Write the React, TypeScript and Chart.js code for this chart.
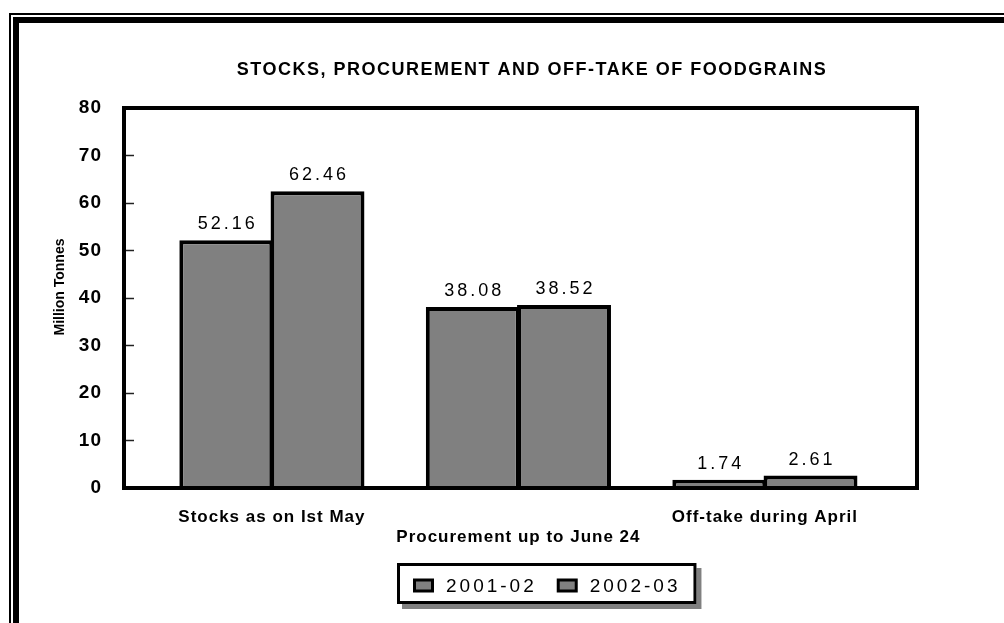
import React, { useEffect, useRef } from "react";
import { Chart, registerables } from "chart.js";

Chart.register(...registerables);

// ---- data ----
const CATEGORIES = ["Stocks as on Ist May", "Procurement up to June 24", "Off-take during April"];
const SERIES_LABELS = ["2001-02", "2002-03"];
const VALUES_2001_02 = [52.16, 38.08, 1.74];
const VALUES_2002_03 = [62.46, 38.52, 2.61];
const Y_TICKS = [0, 10, 20, 30, 40, 50, 60, 70, 80];
const TITLE = "STOCKS, PROCUREMENT AND OFF-TAKE OF FOODGRAINS";
const Y_TITLE = "Million Tonnes";

// ---- layout / style ----
const W = 1004;
const H = 623;
const FONT = "'Liberation Sans', Arial, sans-serif";
const BAR_FILL = "#808080";

const decor = {
  id: "decor",
  beforeUpdate(chart: any) {
    chart.ctx.letterSpacing = "1px";
  },
  beforeDraw(chart: any) {
    const ctx = chart.ctx;
    ctx.save();
    ctx.fillStyle = "#fff";
    ctx.fillRect(0, 0, W, H);
    ctx.fillStyle = "#000";
    // outer double frame (thin + thick), open at right and bottom
    ctx.fillRect(9, 13, W - 9, 2);
    ctx.fillRect(9, 13, 2, H - 13);
    ctx.fillRect(13, 17, W - 13, 6);
    ctx.fillRect(13, 17, 6, H - 17);
    ctx.restore();
    ctx.letterSpacing = "1px";
  },
  afterDraw(chart: any) {
    const ctx = chart.ctx;
    const ca = chart.chartArea;
    ctx.save();
    // plot-area frame (top & right)
    ctx.strokeStyle = "#000";
    ctx.lineWidth = 4;
    ctx.beginPath();
    ctx.moveTo(ca.left - 2, ca.top);
    ctx.lineTo(ca.right, ca.top);
    ctx.lineTo(ca.right, ca.bottom + 2);
    ctx.stroke();

    // value labels
    ctx.fillStyle = "#000";
    ctx.textAlign = "center";
    ctx.textBaseline = "alphabetic";
    ctx.letterSpacing = "3px";
    ctx.font = `18px ${FONT}`;
    chart.data.datasets.forEach((ds: any, di: number) => {
      const meta = chart.getDatasetMeta(di);
      meta.data.forEach((bar: any, i: number) => {
        const v = ds.data[i].y;
        ctx.fillText(v.toFixed(2), bar.x + 1.5, bar.y - 11);
      });
    });

    // title
    ctx.letterSpacing = "1.5px";
    ctx.font = `bold 18px ${FONT}`;
    ctx.textBaseline = "middle";
    ctx.fillText(TITLE, 532, 70);

    // y-axis title
    ctx.save();
    ctx.letterSpacing = "0px";
    ctx.font = `bold 14px ${FONT}`;
    ctx.translate(60, 287);
    ctx.rotate(-Math.PI / 2);
    ctx.fillText(Y_TITLE, 0, 0);
    ctx.restore();

    // legend
    const lx = 397, ly = 563, lh = 41;
    ctx.letterSpacing = "3px";
    ctx.font = `19px ${FONT}`;
    const widths = chart.data.datasets.map((ds: any) => ctx.measureText(ds.label).width);
    const lw = 16 + widths.reduce((a: number, w: number) => a + 33 + w, 0) + 20 * (widths.length - 1) + 16;
    ctx.fillStyle = "#808080";
    ctx.fillRect(lx + 5, ly + 5, lw, lh);
    ctx.fillStyle = "#fff";
    ctx.fillRect(lx, ly, lw, lh);
    ctx.strokeStyle = "#000";
    ctx.lineWidth = 3;
    ctx.strokeRect(lx + 1.5, ly + 1.5, lw - 3, lh - 3);
    let x = lx + 16;
    const cy = ly + lh / 2 + 2;
    chart.data.datasets.forEach((ds: any, di: number) => {
      ctx.fillStyle = "#000";
      ctx.fillRect(x, cy - 7, 21, 14);
      ctx.fillStyle = ds.backgroundColor;
      ctx.fillRect(x + 3, cy - 4, 15, 8);
      ctx.fillStyle = "#000";
      ctx.textAlign = "left";
      ctx.textBaseline = "middle";
      ctx.fillText(ds.label, x + 33, cy + 1);
      x += 33 + widths[di] + 20;
    });
    ctx.restore();
    ctx.letterSpacing = "1px";
  },
};

export default function App() {
  const ref = useRef<HTMLCanvasElement>(null);

  useEffect(() => {
    const canvas = ref.current;
    if (!canvas) return;
    const series = [VALUES_2001_02, VALUES_2002_03];
    const chart = new Chart(canvas, {
      type: "bar",
      data: {
        datasets: series.map((vals, si) => ({
          label: SERIES_LABELS[si],
          data: vals.map((y, i) => ({ x: i, y })),
          backgroundColor: BAR_FILL,
          borderColor: "#000",
          borderWidth: 4,
          borderSkipped: "start",
          categoryPercentage: 0.74,
          barPercentage: 1.03,
        })),
      },
      options: {
        responsive: false,
        animation: false,
        devicePixelRatio: 1,
        layout: { padding: { top: 108, left: 30, right: 87, bottom: 0 } },
        plugins: {
          legend: { display: false },
          title: { display: false },
          tooltip: { enabled: false },
        },
        scales: {
          x: {
            type: "linear",
            min: -0.6,
            max: 2.617,
            offset: false,
            afterBuildTicks: (s: any) => {
              s.ticks = CATEGORIES.map((_, i) => ({ value: i }));
            },
            afterFit: (s: any) => {
              s.height = 135;
            },
            grid: { display: true, drawOnChartArea: false, drawTicks: false, offset: false },
            border: { display: true, color: "#000", width: 4, z: 1 },
            ticks: {
              autoSkip: false,
              maxRotation: 0,
              minRotation: 0,
              padding: 19,
              color: "#000",
              font: { family: FONT, size: 17, weight: "bold", lineHeight: 1.2 },
              callback: (v: any) => {
                const i = Math.round(Number(v));
                return i % 2 === 1 ? ["", CATEGORIES[i]] : CATEGORIES[i];
              },
            },
          },
          y: {
            min: 0,
            max: 80,
            afterBuildTicks: (s: any) => {
              s.ticks = Y_TICKS.map((v) => ({ value: v }));
            },
            afterFit: (s: any) => {
              s.width = 94;
            },
            grid: {
              display: true,
              drawOnChartArea: false,
              drawTicks: true,
              tickLength: -10,
              tickWidth: 1.5,
              tickColor: "#222",
              color: "#222",
            },
            border: { display: true, color: "#000", width: 4, z: 1 },
            ticks: {
              padding: 32,
              color: "#000",
              font: { family: FONT, size: 19, weight: "bold" },
            },
          },
        },
      } as any,
      plugins: [decor],
    } as any);
    return () => chart.destroy();
  }, []);

  return (
    <div style={{ position: "fixed", left: 0, top: 0, width: W, height: H, background: "#fff", overflow: "hidden" }}>
      <canvas ref={ref} width={W} height={H} style={{ display: "block", width: W, height: H }} />
    </div>
  );
}
